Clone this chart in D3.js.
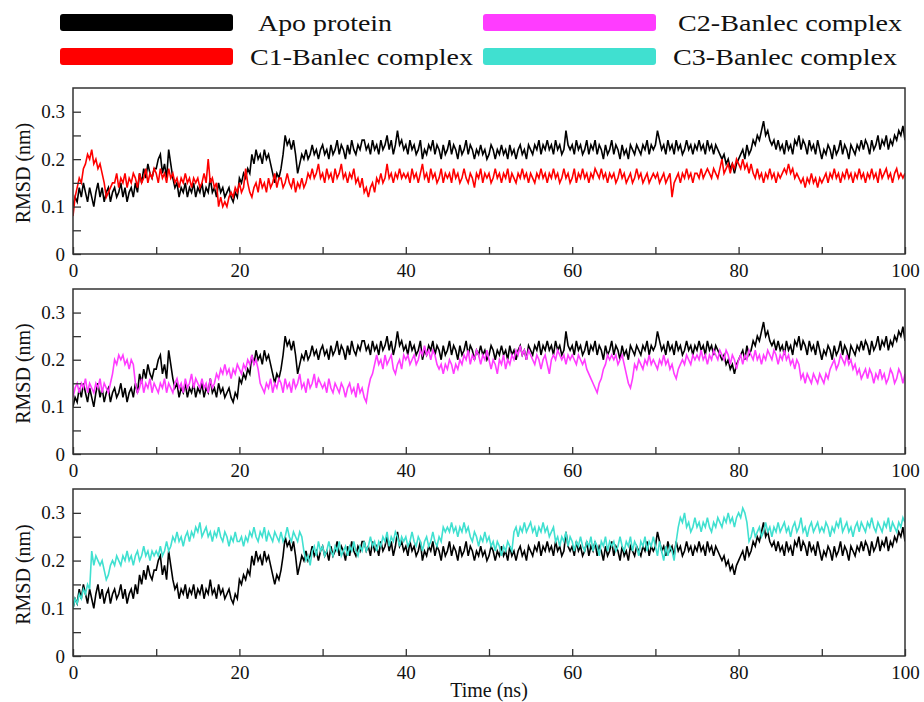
<!DOCTYPE html>
<html>
<head>
<meta charset="utf-8">
<script src="https://cdn.jsdelivr.net/npm/d3@7"></script>
<style>
  html, body { margin: 0; padding: 0; background: #fff; }
  svg { display: block; }
  text { font-family: "Liberation Serif", "Times New Roman", serif; fill: #111; }
</style>
</head>
<body>
<svg id="chart" width="924" height="702"></svg>
<script>
// RMSD traces (nm) sampled every 0.25 ns over the 100 ns run; one row = 5 ns
const apoProtein = [
  0.10,0.12,0.11,0.14,0.12,0.15,0.13,0.11,0.14,0.12,0.10,0.13,0.15,0.12,0.14,0.11,0.13,0.14,0.11,0.13,
  0.14,0.12,0.13,0.15,0.12,0.14,0.11,0.13,0.14,0.12,0.15,0.13,0.17,0.15,0.18,0.16,0.19,0.17,0.16,0.18,
  0.18,0.20,0.21,0.17,0.19,0.16,0.22,0.19,0.16,0.14,0.15,0.12,0.14,0.13,0.15,0.12,0.14,0.13,0.15,0.12,
  0.14,0.13,0.15,0.12,0.14,0.13,0.16,0.13,0.14,0.12,0.15,0.13,0.14,0.12,0.13,0.14,0.12,0.11,0.13,0.12,
  0.16,0.15,0.17,0.16,0.18,0.17,0.21,0.19,0.22,0.20,0.21,0.19,0.22,0.20,0.21,0.19,0.17,0.15,0.17,0.16,
  0.18,0.21,0.25,0.23,0.24,0.22,0.24,0.21,0.17,0.19,0.21,0.20,0.22,0.20,0.21,0.23,0.21,0.22,0.20,0.22,
  0.23,0.21,0.22,0.20,0.23,0.21,0.22,0.24,0.21,0.23,0.22,0.20,0.23,0.21,0.24,0.22,0.21,0.23,0.22,0.24,
  0.24,0.22,0.23,0.21,0.24,0.22,0.23,0.21,0.24,0.22,0.23,0.25,0.22,0.24,0.21,0.23,0.26,0.23,0.24,0.22,
  0.23,0.21,0.24,0.22,0.23,0.21,0.22,0.24,0.20,0.22,0.21,0.23,0.22,0.24,0.21,0.23,0.22,0.20,0.23,0.21,
  0.22,0.24,0.21,0.23,0.22,0.20,0.23,0.21,0.22,0.24,0.21,0.23,0.22,0.20,0.22,0.21,0.23,0.21,0.22,0.20,
  0.21,0.23,0.22,0.20,0.22,0.21,0.23,0.21,0.22,0.20,0.23,0.21,0.22,0.20,0.22,0.23,0.21,0.22,0.20,0.23,
  0.22,0.21,0.23,0.22,0.24,0.21,0.23,0.22,0.24,0.22,0.23,0.21,0.24,0.22,0.23,0.21,0.22,0.26,0.23,0.22,
  0.23,0.21,0.24,0.22,0.23,0.21,0.22,0.24,0.21,0.23,0.22,0.24,0.21,0.23,0.22,0.20,0.23,0.21,0.22,0.24,
  0.21,0.23,0.22,0.20,0.23,0.21,0.22,0.20,0.23,0.22,0.21,0.23,0.22,0.21,0.23,0.22,0.24,0.21,0.23,0.22,
  0.23,0.26,0.24,0.22,0.23,0.21,0.24,0.22,0.23,0.21,0.24,0.22,0.23,0.21,0.22,0.24,0.22,0.23,0.21,0.23,
  0.22,0.24,0.22,0.23,0.21,0.24,0.22,0.23,0.21,0.23,0.22,0.21,0.20,0.21,0.19,0.20,0.18,0.19,0.17,0.19,
  0.20,0.21,0.22,0.20,0.23,0.21,0.22,0.24,0.23,0.25,0.24,0.26,0.28,0.25,0.26,0.24,0.23,0.24,0.22,0.24,
  0.22,0.23,0.21,0.24,0.22,0.23,0.21,0.24,0.23,0.25,0.22,0.24,0.23,0.21,0.24,0.22,0.23,0.21,0.24,0.22,
  0.20,0.22,0.21,0.23,0.22,0.20,0.23,0.21,0.22,0.24,0.21,0.23,0.22,0.20,0.23,0.22,0.21,0.23,0.22,0.24,
  0.22,0.24,0.23,0.21,0.24,0.22,0.23,0.25,0.22,0.24,0.23,0.25,0.22,0.24,0.23,0.25,0.24,0.26,0.25,0.27,
  0.24
];

const c1Complex = [
  0.08,0.12,0.14,0.16,0.15,0.18,0.19,0.21,0.20,0.22,0.19,0.20,0.18,0.19,0.17,0.15,0.12,0.13,0.14,0.15,
  0.15,0.17,0.14,0.16,0.15,0.17,0.14,0.16,0.15,0.17,0.16,0.14,0.17,0.15,0.16,0.18,0.15,0.17,0.16,0.18,
  0.17,0.15,0.18,0.16,0.17,0.15,0.18,0.16,0.17,0.15,0.16,0.14,0.16,0.15,0.17,0.15,0.16,0.14,0.16,0.15,
  0.16,0.14,0.15,0.17,0.15,0.20,0.15,0.16,0.14,0.15,0.10,0.12,0.10,0.11,0.10,0.12,0.13,0.12,0.14,0.13,
  0.15,0.13,0.14,0.18,0.15,0.13,0.12,0.14,0.15,0.13,0.16,0.14,0.15,0.13,0.16,0.14,0.15,0.17,0.14,0.16,
  0.16,0.14,0.15,0.17,0.15,0.14,0.16,0.13,0.15,0.14,0.16,0.14,0.15,0.17,0.16,0.18,0.16,0.17,0.19,0.16,
  0.17,0.15,0.18,0.16,0.17,0.15,0.18,0.16,0.17,0.19,0.16,0.17,0.15,0.17,0.16,0.18,0.15,0.16,0.14,0.16,
  0.13,0.14,0.12,0.14,0.15,0.13,0.16,0.15,0.17,0.15,0.16,0.19,0.16,0.17,0.15,0.17,0.16,0.18,0.16,0.17,
  0.16,0.17,0.15,0.18,0.16,0.17,0.15,0.17,0.19,0.16,0.17,0.15,0.18,0.16,0.17,0.15,0.16,0.18,0.15,0.17,
  0.16,0.17,0.15,0.18,0.16,0.17,0.15,0.16,0.18,0.16,0.15,0.17,0.16,0.14,0.17,0.16,0.18,0.15,0.17,0.16,
  0.17,0.15,0.16,0.18,0.16,0.17,0.15,0.17,0.16,0.18,0.15,0.17,0.16,0.15,0.17,0.16,0.18,0.16,0.17,0.15,
  0.17,0.16,0.15,0.17,0.16,0.18,0.16,0.17,0.15,0.17,0.16,0.18,0.16,0.17,0.15,0.16,0.18,0.16,0.17,0.15,
  0.16,0.18,0.15,0.17,0.16,0.18,0.16,0.17,0.15,0.17,0.16,0.18,0.17,0.16,0.18,0.16,0.17,0.15,0.17,0.16,
  0.17,0.15,0.16,0.18,0.16,0.17,0.15,0.16,0.17,0.15,0.16,0.18,0.16,0.17,0.15,0.16,0.17,0.15,0.16,0.17,
  0.16,0.17,0.15,0.16,0.17,0.15,0.16,0.17,0.12,0.15,0.16,0.17,0.15,0.17,0.16,0.18,0.16,0.17,0.15,0.17,
  0.17,0.16,0.18,0.16,0.17,0.18,0.17,0.16,0.18,0.17,0.16,0.18,0.20,0.17,0.18,0.19,0.17,0.19,0.18,0.20,
  0.19,0.18,0.20,0.18,0.19,0.17,0.19,0.17,0.16,0.18,0.16,0.17,0.15,0.17,0.16,0.18,0.16,0.17,0.15,0.17,
  0.16,0.17,0.18,0.17,0.19,0.17,0.18,0.16,0.17,0.16,0.15,0.16,0.14,0.16,0.15,0.17,0.15,0.16,0.14,0.16,
  0.15,0.16,0.17,0.15,0.17,0.16,0.18,0.16,0.17,0.15,0.17,0.16,0.18,0.16,0.17,0.15,0.17,0.16,0.18,0.16,
  0.17,0.15,0.17,0.16,0.18,0.16,0.17,0.15,0.18,0.16,0.17,0.18,0.16,0.17,0.15,0.17,0.18,0.16,0.17,0.16,
  0.17
];

const c2Complex = [
  0.12,0.14,0.15,0.13,0.15,0.14,0.16,0.13,0.15,0.14,0.13,0.15,0.14,0.16,0.13,0.15,0.14,0.13,0.15,0.17,
  0.20,0.19,0.21,0.20,0.21,0.19,0.20,0.18,0.20,0.19,0.15,0.13,0.14,0.16,0.13,0.15,0.14,0.16,0.13,0.15,
  0.14,0.13,0.15,0.14,0.16,0.13,0.15,0.14,0.13,0.15,0.16,0.14,0.15,0.13,0.16,0.14,0.15,0.17,0.14,0.16,
  0.15,0.14,0.16,0.14,0.15,0.13,0.16,0.14,0.15,0.17,0.16,0.18,0.17,0.19,0.17,0.18,0.16,0.18,0.17,0.19,
  0.18,0.17,0.19,0.18,0.20,0.19,0.21,0.19,0.20,0.18,0.15,0.14,0.13,0.15,0.14,0.16,0.13,0.15,0.14,0.16,
  0.15,0.13,0.16,0.14,0.15,0.13,0.16,0.14,0.15,0.17,0.14,0.15,0.13,0.16,0.14,0.15,0.17,0.14,0.16,0.15,
  0.14,0.15,0.13,0.16,0.14,0.13,0.15,0.14,0.13,0.15,0.14,0.12,0.14,0.15,0.13,0.14,0.12,0.15,0.13,0.14,
  0.12,0.11,0.14,0.16,0.17,0.19,0.21,0.19,0.20,0.18,0.21,0.19,0.20,0.21,0.18,0.17,0.19,0.20,0.18,0.21,
  0.20,0.21,0.19,0.20,0.21,0.19,0.20,0.22,0.21,0.23,0.21,0.22,0.20,0.22,0.21,0.19,0.18,0.19,0.17,0.19,
  0.18,0.20,0.19,0.17,0.19,0.18,0.20,0.19,0.21,0.20,0.22,0.19,0.21,0.20,0.22,0.21,0.19,0.21,0.20,0.22,
  0.20,0.18,0.20,0.19,0.17,0.20,0.19,0.21,0.18,0.20,0.19,0.21,0.20,0.22,0.21,0.23,0.21,0.22,0.20,0.22,
  0.21,0.20,0.19,0.21,0.20,0.18,0.20,0.21,0.19,0.17,0.20,0.21,0.20,0.22,0.21,0.20,0.21,0.19,0.21,0.20,
  0.21,0.20,0.19,0.21,0.20,0.19,0.20,0.18,0.17,0.16,0.15,0.14,0.13,0.15,0.16,0.18,0.19,0.21,0.20,0.21,
  0.20,0.21,0.19,0.20,0.21,0.19,0.17,0.15,0.14,0.16,0.19,0.18,0.20,0.19,0.18,0.20,0.19,0.21,0.19,0.20,
  0.19,0.18,0.20,0.19,0.21,0.19,0.20,0.18,0.19,0.17,0.16,0.18,0.19,0.20,0.19,0.21,0.20,0.19,0.21,0.20,
  0.21,0.20,0.22,0.20,0.21,0.19,0.21,0.20,0.22,0.21,0.20,0.22,0.21,0.20,0.22,0.21,0.19,0.21,0.20,0.18,
  0.20,0.21,0.19,0.21,0.20,0.22,0.21,0.20,0.22,0.20,0.21,0.19,0.21,0.20,0.22,0.21,0.20,0.22,0.21,0.19,
  0.21,0.20,0.22,0.20,0.21,0.19,0.20,0.18,0.20,0.19,0.16,0.17,0.15,0.17,0.16,0.15,0.17,0.16,0.15,0.17,
  0.16,0.15,0.17,0.16,0.18,0.19,0.20,0.18,0.19,0.21,0.20,0.19,0.21,0.19,0.20,0.18,0.19,0.17,0.18,0.16,
  0.17,0.18,0.16,0.18,0.17,0.15,0.17,0.16,0.18,0.16,0.17,0.15,0.16,0.18,0.17,0.15,0.16,0.18,0.17,0.15,
  0.17
];

const c3Complex = [
  0.10,0.12,0.11,0.13,0.12,0.14,0.13,0.15,0.14,0.22,0.19,0.21,0.20,0.19,0.20,0.18,0.16,0.17,0.19,0.20,
  0.19,0.21,0.20,0.19,0.21,0.20,0.22,0.20,0.21,0.19,0.21,0.22,0.20,0.21,0.23,0.21,0.22,0.20,0.22,0.21,
  0.22,0.21,0.23,0.21,0.22,0.24,0.22,0.23,0.25,0.24,0.26,0.24,0.25,0.23,0.25,0.26,0.24,0.26,0.25,0.27,
  0.26,0.28,0.25,0.26,0.27,0.25,0.26,0.24,0.26,0.25,0.27,0.25,0.24,0.26,0.25,0.23,0.25,0.24,0.26,0.24,
  0.24,0.25,0.23,0.25,0.24,0.26,0.25,0.27,0.25,0.24,0.26,0.25,0.27,0.24,0.26,0.25,0.24,0.26,0.25,0.24,
  0.26,0.24,0.25,0.27,0.25,0.24,0.26,0.25,0.24,0.26,0.25,0.22,0.20,0.21,0.19,0.22,0.23,0.21,0.24,0.22,
  0.23,0.21,0.22,0.24,0.22,0.21,0.23,0.22,0.24,0.21,0.22,0.23,0.21,0.23,0.22,0.24,0.22,0.21,0.23,0.22,
  0.24,0.22,0.23,0.25,0.23,0.24,0.22,0.24,0.23,0.25,0.24,0.26,0.23,0.25,0.24,0.26,0.25,0.23,0.25,0.24,
  0.25,0.23,0.24,0.26,0.24,0.23,0.25,0.24,0.22,0.24,0.25,0.23,0.24,0.26,0.24,0.23,0.25,0.24,0.27,0.26,
  0.27,0.26,0.28,0.26,0.27,0.25,0.27,0.26,0.28,0.26,0.27,0.25,0.24,0.26,0.25,0.23,0.25,0.24,0.26,0.24,
  0.25,0.23,0.24,0.22,0.24,0.23,0.21,0.23,0.22,0.24,0.23,0.22,0.26,0.27,0.25,0.27,0.26,0.28,0.26,0.27,
  0.28,0.26,0.27,0.25,0.27,0.26,0.28,0.26,0.27,0.25,0.26,0.27,0.24,0.25,0.23,0.25,0.24,0.26,0.23,0.25,
  0.24,0.22,0.24,0.23,0.25,0.23,0.22,0.24,0.23,0.25,0.22,0.24,0.23,0.21,0.24,0.23,0.25,0.22,0.24,0.23,
  0.24,0.22,0.23,0.25,0.23,0.22,0.24,0.23,0.25,0.22,0.24,0.23,0.21,0.24,0.23,0.25,0.22,0.24,0.23,0.25,
  0.23,0.21,0.24,0.22,0.20,0.23,0.21,0.23,0.22,0.20,0.24,0.27,0.29,0.28,0.30,0.27,0.28,0.26,0.27,0.29,
  0.27,0.28,0.26,0.28,0.27,0.29,0.27,0.26,0.28,0.27,0.29,0.28,0.27,0.29,0.28,0.30,0.28,0.29,0.27,0.29,
  0.30,0.29,0.31,0.30,0.28,0.24,0.25,0.27,0.25,0.26,0.27,0.25,0.26,0.28,0.26,0.27,0.25,0.27,0.26,0.28,
  0.26,0.27,0.28,0.26,0.27,0.25,0.27,0.28,0.26,0.27,0.29,0.26,0.27,0.25,0.27,0.28,0.26,0.27,0.28,0.26,
  0.27,0.26,0.28,0.27,0.25,0.27,0.26,0.28,0.27,0.29,0.26,0.27,0.28,0.26,0.27,0.25,0.27,0.28,0.26,0.28,
  0.27,0.26,0.28,0.27,0.29,0.27,0.26,0.28,0.27,0.26,0.28,0.27,0.29,0.26,0.28,0.27,0.26,0.28,0.27,0.29,
  0.28
];

const seriesNames = ["Apo protein", "C1-Banlec complex", "C2-Banlec complex", "C3-Banlec complex"];
const seriesColors = ["#000000", "#ff0000", "#ff3cff", "#40e0d0"];

const xTickValues = [0, 10, 20, 30, 40, 50, 60, 70, 80, 90, 100];
const xTickLabels = ["0", "", "20", "", "40", "", "60", "", "80", "", "100"];
const yTickValues = [0, 0.05, 0.1, 0.15, 0.2, 0.25, 0.3];
const yTickLabels = ["0", "", "0.1", "", "0.2", "", "0.3"];

const xTitle = "Time (ns)";
const yTitle = "RMSD (nm)";
const runLength = 100; // ns

// Each panel compares the apo trace against one complex
const panels = [
  { top: 88,  bottom: 254, complex: c1Complex, color: seriesColors[1] },
  { top: 289, bottom: 454, complex: c2Complex, color: seriesColors[2] },
  { top: 489, bottom: 656, complex: c3Complex, color: seriesColors[3] }
];

const svg = d3.select("#chart");
const plotLeft = 73, plotRight = 905;

const x = d3.scaleLinear().domain([0, runLength]).range([plotLeft, plotRight]);

function styleAxis(sel) {
  sel.select(".domain").remove();
  sel.selectAll(".tick line").attr("stroke", "#333").attr("stroke-width", 1.3);
  sel.selectAll(".tick text")
    .attr("font-family", "Liberation Serif, serif")
    .attr("font-size", 19)
    .attr("fill", "#111");
}

panels.forEach((p, pi) => {
  const y = d3.scaleLinear().domain([0, 0.35]).range([p.bottom, p.top]);
  const g = svg.append("g");

  const clipId = "clip" + pi;
  svg.append("clipPath").attr("id", clipId)
    .append("rect")
    .attr("x", plotLeft).attr("y", p.top)
    .attr("width", plotRight - plotLeft).attr("height", p.bottom - p.top);

  const traceLine = values => {
    const step = runLength / (values.length - 1);
    return d3.line()
      .x((d, i) => x(i * step))
      .y(d => y(d))(values);
  };

  const traces = g.append("g").attr("clip-path", `url(#${clipId})`);
  traces.append("path")
    .attr("d", traceLine(apoProtein))
    .attr("fill", "none")
    .attr("stroke", seriesColors[0])
    .attr("stroke-width", 1.6);
  traces.append("path")
    .attr("d", traceLine(p.complex))
    .attr("fill", "none")
    .attr("stroke", p.color)
    .attr("stroke-width", 1.6);

  // inward-pointing ticks on bottom and left axes
  const gx = g.append("g")
    .attr("transform", `translate(0,${p.bottom})`)
    .call(d3.axisBottom(x)
      .tickValues(xTickValues)
      .tickSize(-7)
      .tickPadding(10)
      .tickFormat((d, i) => xTickLabels[i]));
  styleAxis(gx);

  const gy = g.append("g")
    .attr("transform", `translate(${plotLeft},0)`)
    .call(d3.axisLeft(y)
      .tickValues(yTickValues)
      .tickSize(-8)
      .tickPadding(8)
      .tickFormat((d, i) => yTickLabels[i]));
  styleAxis(gy);

  // frame
  g.append("rect")
    .attr("x", plotLeft).attr("y", p.top)
    .attr("width", plotRight - plotLeft).attr("height", p.bottom - p.top)
    .attr("fill", "none")
    .attr("stroke", "#333")
    .attr("stroke-width", 1.5);

  // y-axis title
  g.append("text")
    .attr("transform", `translate(30,${(p.top + p.bottom) / 2 + 2}) rotate(-90)`)
    .attr("text-anchor", "middle")
    .attr("font-size", 20)
    .text(yTitle);
});

// x-axis title under the last panel
svg.append("text")
  .attr("x", (plotLeft + plotRight) / 2)
  .attr("y", 697)
  .attr("text-anchor", "middle")
  .attr("font-size", 20)
  .text(xTitle);

// legend: two columns of thick rounded swatches
const legendItems = [
  { i: 0, bx: 60,  by: 14, tx: 258, ty: 31, tw: 134 },
  { i: 1, bx: 60,  by: 48, tx: 250, ty: 65, tw: 223 },
  { i: 2, bx: 483, by: 14, tx: 678, ty: 31, tw: 224 },
  { i: 3, bx: 483, by: 48, tx: 673, ty: 65, tw: 224 }
];
const legend = svg.append("g");
legendItems.forEach(it => {
  legend.append("rect")
    .attr("x", it.bx).attr("y", it.by)
    .attr("width", 173).attr("height", 17)
    .attr("rx", 3).attr("ry", 3)
    .attr("fill", seriesColors[it.i]);
  legend.append("text")
    .attr("x", it.tx).attr("y", it.ty)
    .attr("font-size", 24)
    .attr("textLength", it.tw)
    .attr("lengthAdjust", "spacingAndGlyphs")
    .text(seriesNames[it.i]);
});
</script>
</body>
</html>
